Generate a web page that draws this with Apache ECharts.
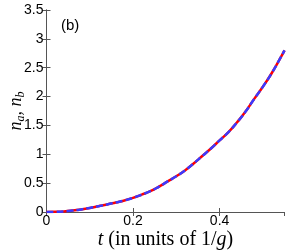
<!DOCTYPE html>
<html><head><meta charset="utf-8">
<script src="https://cdn.jsdelivr.net/npm/echarts@6/dist/echarts.min.js"></script>
<style>html,body{margin:0;padding:0;background:#fff}#c{width:300px;height:252px}</style>
</head><body><div id="c"></div>
<script>
const tValues = [0,0.02,0.04,0.06,0.08,0.10,0.12,0.14,0.16,0.18,0.20,0.22,0.24,0.26,0.28,0.30,0.32,0.34,0.36,0.38,0.40,0.42,0.44,0.46,0.48,0.50,0.52,0.54,0.55];
const naValues = [0,0.003,0.01,0.025,0.045,0.07,0.10,0.13,0.165,0.20,0.245,0.30,0.36,0.44,0.53,0.62,0.72,0.84,0.97,1.10,1.24,1.38,1.55,1.74,1.96,2.17,2.40,2.66,2.80];
const nbValues = [0,0.003,0.01,0.025,0.045,0.07,0.10,0.13,0.165,0.20,0.245,0.30,0.36,0.44,0.53,0.62,0.72,0.84,0.97,1.10,1.24,1.38,1.55,1.74,1.96,2.17,2.40,2.66,2.80];
const xTickLabels = ['0','0.2','0.4'];
const yTickLabels = ['0','0.5','1','1.5','2','2.5','3','3.5'];

const chart = echarts.init(document.getElementById('c'), null, {renderer:'canvas'});
const axisCol = '#555';
const labelFont = {color:'#000', fontSize:14, fontFamily:'Liberation Sans, Arial, sans-serif'};
const serif = 'Liberation Serif, DejaVu Serif, serif';
chart.setOption({
  animation:false,
  grid:{left:46.5, right:15.5, top:10, bottom:40, containLabel:false, outerBoundsMode:'none'},
  xAxis:[{
    type:'value', min:0, max:0.55, interval:0.2,
    axisLine:{show:true, onZero:false, lineStyle:{color:axisCol, width:1}},
    axisTick:{inside:true, length:4, lineStyle:{color:axisCol}},
    splitLine:{show:false},
    axisLabel:Object.assign({margin:2, showMaxLabel:false, formatter:v=>{const i=Math.round(v/0.2);return Math.abs(v-i*0.2)<1e-6?xTickLabels[i]:'';}}, labelFont),
    name:'{i|t} (in units of 1/{i|g})', nameLocation:'middle', nameGap:18, nameMoveOverlap:false,
    nameTextStyle:{fontFamily:serif, fontSize:20, color:'#000',
      rich:{i:{fontStyle:'italic', fontFamily:serif, fontSize:20}}}
  },{
    type:'value', position:'top', min:0, max:0.55, interval:0.2,
    axisLine:{show:true, lineStyle:{color:axisCol}}, axisTick:{inside:true, length:4, lineStyle:{color:axisCol}},
    axisLabel:{show:false}, splitLine:{show:false}
  }],
  yAxis:[{
    type:'value', min:0, max:3.5, interval:0.5,
    axisLine:{show:true, onZero:false, lineStyle:{color:axisCol, width:1}},
    axisTick:{inside:true, length:4, lineStyle:{color:axisCol}},
    splitLine:{show:false},
    axisLabel:Object.assign({margin:3, formatter:v=>yTickLabels[Math.round(v/0.5)]}, labelFont),
    name:'{i|n}{s|a}{i|, n}{s|b}', nameLocation:'middle', nameGap:20, nameRotate:90, nameMoveOverlap:false,
    nameTextStyle:{color:'#000', rich:{
      i:{fontStyle:'italic', fontFamily:serif, fontSize:18, color:'#000'},
      s:{fontStyle:'italic', fontFamily:serif, fontSize:12, color:'#000', padding:[8,0,0,0]}
    }}
  },{
    type:'value', position:'right', min:0, max:3.5, interval:0.5,
    axisLine:{show:true, lineStyle:{color:axisCol}}, axisTick:{inside:true, length:4, lineStyle:{color:axisCol}},
    axisLabel:{show:false}, splitLine:{show:false}
  }],
  graphic:[{type:'text', left:61, top:18, style:{text:'(b)', fontSize:15, fontFamily:'Liberation Sans, Arial, sans-serif', fill:'#000'}}],
  series:[
    {type:'line', name:'na', data:tValues.map((t,i)=>[t,naValues[i]]), showSymbol:false, smooth:true,
     lineStyle:{color:'#ff0000', width:2.5}, clip:true, z:2},
    {type:'line', name:'nb', data:tValues.map((t,i)=>[t,nbValues[i]]), showSymbol:false, smooth:true,
     lineStyle:{color:'#3a3aff', width:2.5, type:[7,3]}, clip:true, z:3}
  ]
});
</script></body></html>
